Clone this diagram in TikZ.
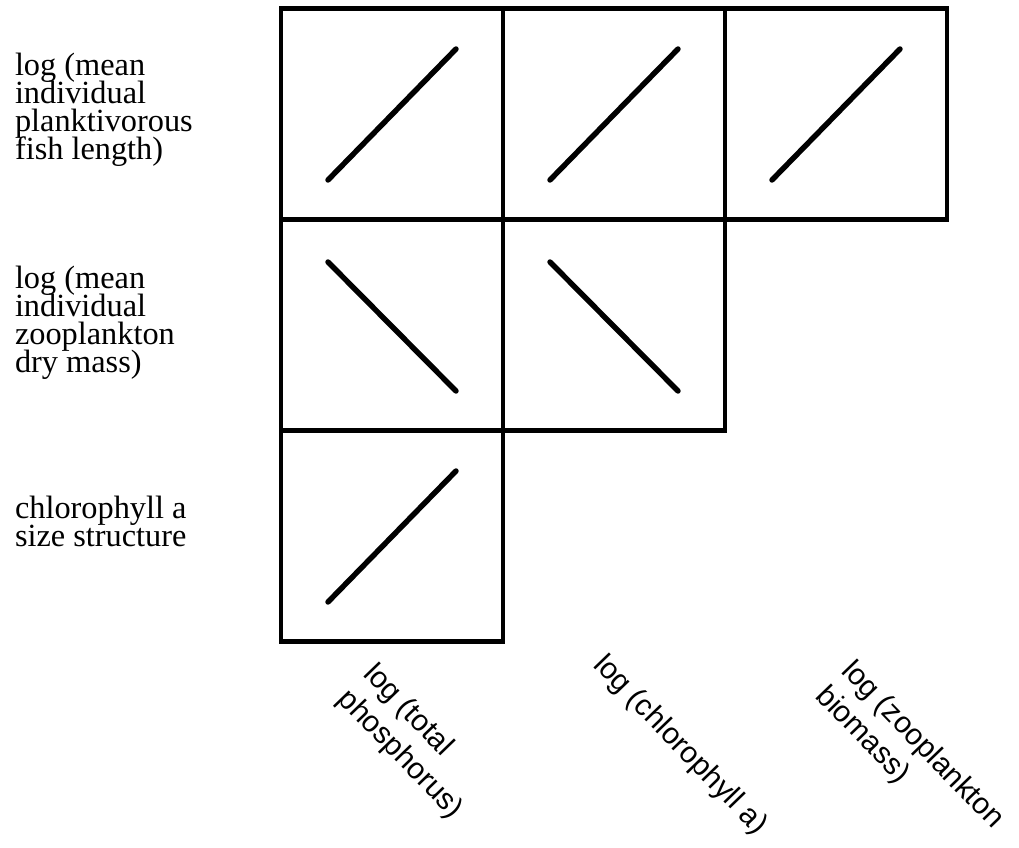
\documentclass[tikz,border=0pt]{standalone}
\usepackage{fontspec}
\setmainfont{Liberation Serif}
\newfontfamily\axisfont{Liberation Sans}
\usepackage{tikz}

\begin{document}
\begin{tikzpicture}[x=0.02cm,y=-0.02cm,inner sep=0pt,outer sep=0pt,
  cell/.style={draw,line width=2.6pt,minimum width=4.44cm,minimum height=4.22cm},
  trend/.style={line width=3.1pt,line cap=round},
  rowlab/.style={anchor=north west,align=left,
    font={\fontsize{18.4}{15.9}\selectfont\lineskiplimit=-8pt}},
  collab/.style={anchor=north west,align=left,rotate=-46,
    font={\axisfont\fontsize{17}{20.5}\selectfont}}]
  \useasboundingbox (0,0) rectangle (1019,848);
  % cells of the matrix
  \node[cell] (a1) at (392,114) {};
  \node[cell] (a2) at (614,114) {};
  \node[cell] (a3) at (836,114) {};
  \node[cell] (b1) at (392,325) {};
  \node[cell] (b2) at (614,325) {};
  \node[cell] (c1) at (392,536) {};
  % sign of each relation
  \draw[trend,shift={(a1.center)}] (-64,66) -- (64,-65);
  \draw[trend,shift={(a2.center)}] (-64,66) -- (64,-65);
  \draw[trend,shift={(a3.center)}] (-64,66) -- (64,-65);
  \draw[trend,shift={(b1.center)}] (-64,-63) -- (64,66);
  \draw[trend,shift={(b2.center)}] (-64,-63) -- (64,66);
  \draw[trend,shift={(c1.center)}] (-64,66) -- (64,-65);
  % row labels
  \node[rowlab] (ya) at (15,53)  {log (mean\\individual\\planktivorous\\fish length)};
  \node[rowlab] (yb) at (15,266) {log (mean\\individual\\zooplankton\\dry mass)};
  \node[rowlab] (yc) at (15,496) {chlorophyll a\\size structure};
  % column labels
  \node[collab] (xa) at (378,660) {log (total\\phosphorus)};
  \node[collab] (xb) at (608,651) {log (chlorophyll a)};
  \node[collab] (xc) at (856,657) {log (zooplankton\\biomass)};
\end{tikzpicture}
\end{document}
